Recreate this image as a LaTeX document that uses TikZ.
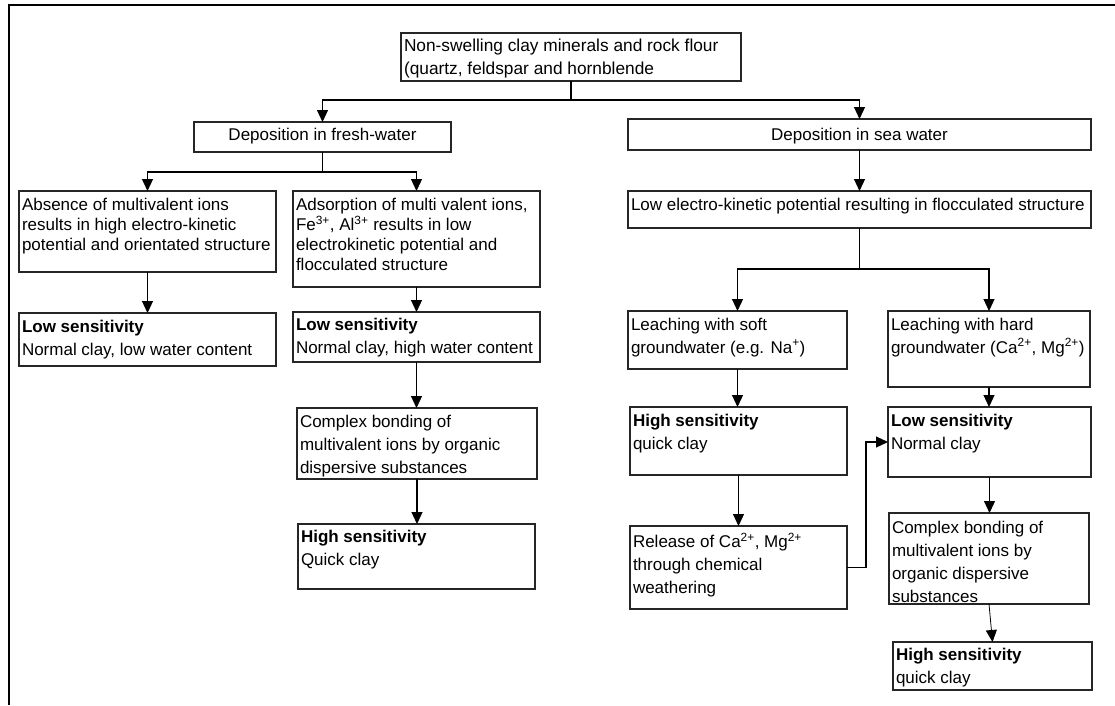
\documentclass[tikz,border=0pt]{standalone}
\usepackage{fontspec}
\setmainfont{Liberation Sans}
\usetikzlibrary{arrows.meta}
% #1 align (l/c), #2 inner width, #3 height, #4 top skip, #5 lines
\newcommand{\boxtxt}[5]{\begin{minipage}[t][#3pt][t]{#2pt}\vspace*{#4pt}\ifx l#1\raggedright\else\centering\fi\begin{tabular}[t]{@{}#1@{}}#5\end{tabular}\end{minipage}}
\begin{document}
\begin{tikzpicture}[x=1pt,y=-1pt,
  box/.style={draw=black!85, line width=1.2pt, inner xsep=3pt, inner ysep=0pt, outer sep=0pt, anchor=north west, font=\fontsize{17}{23}\selectfont},
  tight/.style={font=\fontsize{17}{20}\selectfont},
  conn/.style={line width=1.2pt, draw=black},
  arr/.style={conn, -{Triangle[width=11pt,length=12pt]}}]
\useasboundingbox (0,0) rectangle (1115,705);
\draw[line width=2pt] (9,705) -- (9,5) -- (1115,5);

\node[box, font=\fontsize{17.3}{22.5}\selectfont] (top) at (401,33) {\boxtxt{l}{334}{48}{3}{Non-swelling clay minerals and rock flour\\(quartz, feldspar and hornblende}};
\node[box] (fresh) at (194,122) {\boxtxt{c}{251}{30}{1.9}{Deposition in fresh-water}};
\node[box] (sea) at (628,119) {\boxtxt{c}{457}{31}{4.9}{Deposition in sea water}};

\node[box, tight] (absence) at (19,191) {\boxtxt{l}{251}{81}{5}{Absence of multivalent ions\\results in high electro-kinetic\\potential and orientated structure}};
\node[box, tight] (adsorb) at (293,191) {\boxtxt{l}{241}{96}{5}{Adsorption of multi valent ions,\\Fe\textsuperscript{3+}, Al\textsuperscript{3+} results in low\\electrokinetic potential and\\flocculated structure}};
\node[box] (lowL1) at (19,313) {\boxtxt{l}{251}{53}{3}{\textbf{Low sensitivity}\\Normal clay, low water content}};
\node[box] (lowL2) at (293,312) {\boxtxt{l}{241}{50}{2.6}{\textbf{Low sensitivity}\\Normal clay, high water content}};
\node[box] (complexL) at (297,408) {\boxtxt{l}{234}{71}{3.6}{Complex bonding of\\multivalent ions by organic\\dispersive substances}};
\node[box] (highL) at (298,524) {\boxtxt{l}{231}{65}{2.2}{\textbf{High sensitivity}\\Quick clay}};

\node[box] (lowelec) at (628,191) {\boxtxt{l}{457}{37}{2.9}{Low electro-kinetic potential resulting in flocculated structure}};
\node[box] (soft) at (628,311) {\boxtxt{l}{213}{58}{2.9}{Leaching with soft\\groundwater (e.g. Na\textsuperscript{+})}};
\node[box] (hard) at (888,311) {\boxtxt{l}{196}{76}{2.9}{Leaching with hard\\groundwater (Ca\textsuperscript{2+}, Mg\textsuperscript{2+})}};
\node[box] (highS) at (630,407) {\boxtxt{l}{211}{68}{3.6}{\textbf{High sensitivity}\\quick clay}};
\node[box] (release) at (630,526) {\boxtxt{l}{211}{83}{5.6}{Release of Ca\textsuperscript{2+}, Mg\textsuperscript{2+}\\through chemical\\weathering}};
\node[box] (lowR) at (888,407) {\boxtxt{l}{197}{70}{3.6}{\textbf{Low sensitivity}\\Normal clay}};
\node[box] (complexR) at (889,513) {\boxtxt{l}{194}{91}{3.9}{Complex bonding of\\multivalent ions by\\organic dispersive\\substances}};
\node[box] (highR) at (893,642) {\boxtxt{l}{193}{48}{1.9}{\textbf{High sensitivity}\\quick clay}};

\draw[conn] (top.south) -- (top.south |- 0,100) coordinate (j1);
\draw[arr] (j1) -| (fresh.north);
\draw[arr] (j1) -| (sea.north);
\draw[conn] (fresh.south) -- ++(0,20) coordinate (j2);
\draw[arr] (j2) -| (absence.north);
\draw[arr] (j2) -| (adsorb.north);
\draw[arr] (absence.south) -- (absence.south |- lowL1.north);
\draw[arr] (adsorb.south) -- (adsorb.south |- lowL2.north);
\draw[arr] (lowL2.south) -- (lowL2.south |- complexL.north);
\draw[arr] (complexL.south) -- (complexL.south |- highL.north);
\draw[arr] (sea.south) -- (sea.south |- lowelec.north);
\draw[conn] (lowelec.south) -- ++(0,41) coordinate (j3);
\draw[arr] (j3) -| (soft.north);
\draw[arr] (j3) -| (hard.north);
\draw[arr] (soft.south) -- (soft.south |- highS.north);
\draw[arr] (highS.south) -- (highS.south |- release.north);
\draw[arr] (hard.south) -- (hard.south |- lowR.north);
\draw[arr] (release.east) -- ++(19,0) |- (lowR.west);
\draw[arr] (lowR.south) -- (lowR.south |- complexR.north);
\draw[arr, line width=0.8pt] (complexR.south) -- (highR.north);
\end{tikzpicture}
\end{document}
